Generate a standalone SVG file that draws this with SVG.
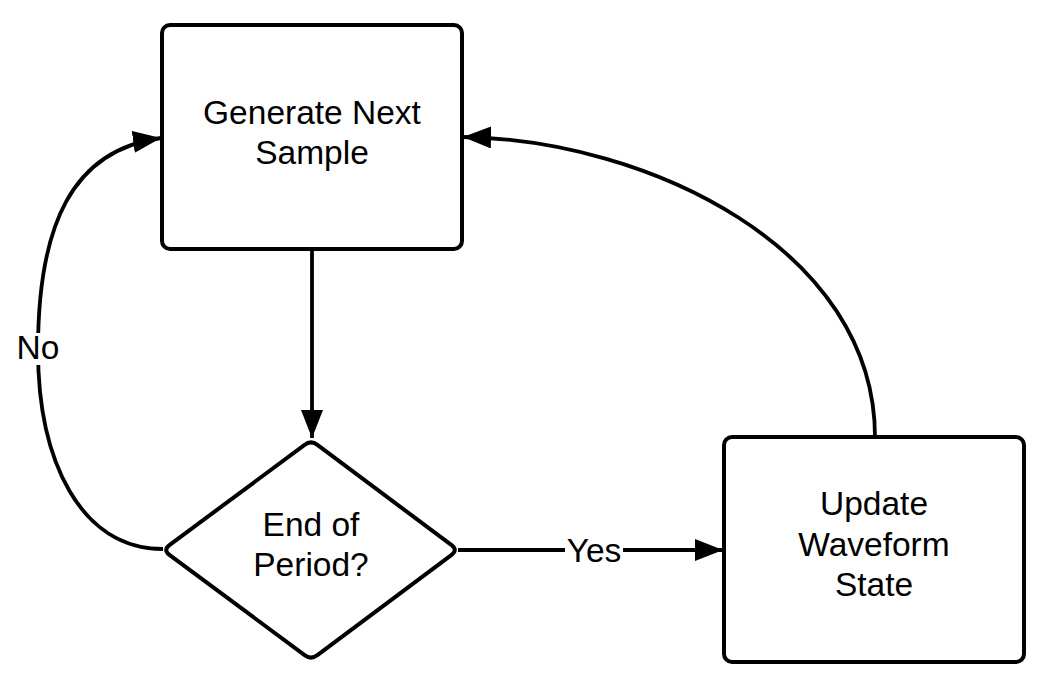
<svg xmlns="http://www.w3.org/2000/svg" width="1041" height="682" viewBox="0 0 1041 682">
<style>
.node{fill:#fff;stroke:#000;stroke-width:4}
.conn{fill:none;stroke:#000;stroke-width:3.8}
text{font-family:"Liberation Sans",Arial,sans-serif;font-size:33.5px;fill:#000;text-anchor:middle}
.lblbg{fill:#fff}
</style>
<defs>
<marker id="arrow" markerUnits="userSpaceOnUse" markerWidth="30" markerHeight="24" refX="28" refY="11" orient="auto">
<path d="M0,0 L28,11 L0,22 Z" fill="#000"/>
</marker>
</defs>
<rect width="1041" height="682" fill="#fff"/>
<g id="connectors">
<path class="conn" d="M312,251 L312,438" marker-end="url(#arrow)"/>
<path class="conn" d="M458,550 L723,550" marker-end="url(#arrow)"/>
<path class="conn" d="M163,549 C80,549 38,460 38,350 C38,225 72,150 161,138" marker-end="url(#arrow)"/>
<path class="conn" d="M875,437 C875,250 650,140 463,137" marker-end="url(#arrow)"/>
<rect class="lblbg" x="565" y="535" width="58" height="32"/>
<text x="594" y="562">Yes</text>
<rect class="lblbg" x="15" y="333" width="48" height="32"/>
<text x="38" y="359">No</text>
</g>
<g id="node-generate">
<rect class="node" x="162" y="25" width="300" height="224" rx="8"/>
<text x="312" y="124">Generate Next</text>
<text x="312" y="164">Sample</text>
</g>
<g id="node-end-of-period">
<path class="node" d="M304.6,444.8 Q311,440 317.4,444.8 L451.6,545.2 Q458,550 451.6,554.8 L317.4,655.2 Q311,660 304.6,655.2 L169.4,554.8 Q163,550 169.4,545.2 Z"/>
<text x="311" y="536">End of</text>
<text x="311" y="576">Period?</text>
</g>
<g id="node-update">
<rect class="node" x="724" y="437" width="300" height="225" rx="8"/>
<text x="874" y="515">Update</text>
<text x="874" y="556">Waveform</text>
<text x="874" y="596">State</text>
</g>
</svg>
